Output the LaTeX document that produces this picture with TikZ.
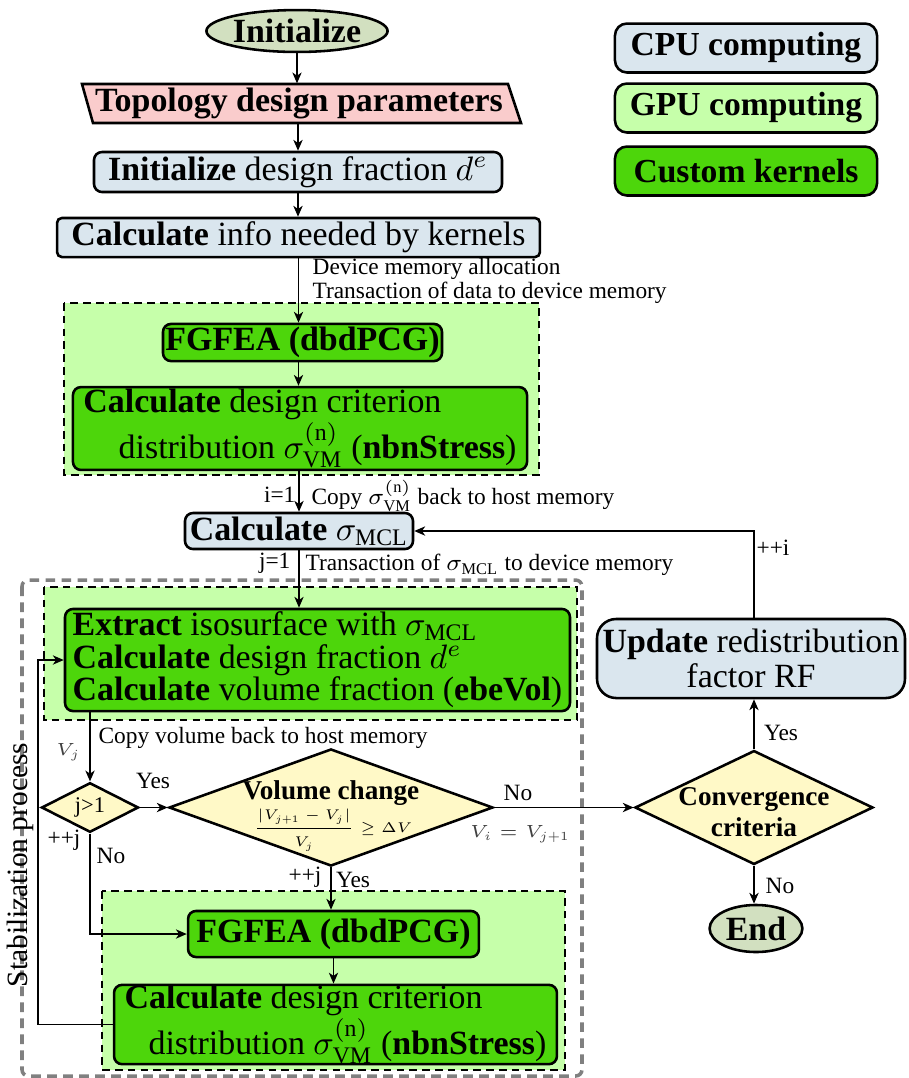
\documentclass[tikz,border=0pt]{standalone}
\usepackage{fix-cm}
\usepackage{amsmath}
\usepackage{fontspec}
\setmainfont{Liberation Serif}
\usetikzlibrary{shapes.geometric,arrows.meta}
\definecolor{cpu}{RGB}{218,230,238}
\definecolor{gpu}{RGB}{198,255,170}
\definecolor{kern}{RGB}{77,214,11}
\definecolor{ell}{RGB}{210,224,192}
\definecolor{pinkc}{RGB}{250,204,204}
\definecolor{yel}{RGB}{255,249,199}
\tikzset{
  box/.style={draw, line width=0.8pt, rounded corners=2.5pt, inner sep=0pt, font=\fontsize{10.6}{12.4}\selectfont},
  cpubox/.style={box, fill=cpu},
  kernbox/.style={box, fill=kern},
  legbox/.style={box, rounded corners=3.75pt, minimum width=81.9pt, minimum height=15.3pt, font=\fontsize{10.5}{12}\selectfont\bfseries},
  ellbox/.style={ellipse, draw, line width=0.8pt, fill=ell, inner sep=0pt, font=\fontsize{10.6}{12}\selectfont\bfseries},
  decision/.style={diamond, draw, line width=0.8pt, fill=yel, inner sep=0pt},
  dtext/.style={align=center, inner sep=0pt, font=\fontsize{8.5}{9.7}\selectfont\bfseries},
  lab/.style={font=\fontsize{7.3}{6.4}\selectfont, inner sep=0pt},
  mlab/.style={font=\fontsize{5.5}{6}\selectfont, inner sep=0pt, text=black!75},
  conn/.style={line width=0.5pt, -{Stealth[length=3.4pt,width=2.9pt,inset=1pt]}},
  region/.style={fill=gpu, draw, line width=0.6pt, dash pattern=on 2.4pt off 1.6pt},
  outer/.style={draw=black!50, line width=1.1pt, dash pattern=on 3pt off 2pt, rounded corners=2pt},
}
\begin{document}
\begin{tikzpicture}[x=0.3125pt,y=-0.3125pt]
\useasboundingbox (0,0) rectangle (909,1078);

% regions
\draw[outer] (22,580) rectangle (582,1076);
\draw[region] (64,303) rectangle (539,475);
\draw[region] (44,587) rectangle (577,720);
\draw[region] (102,891) rectangle (565,1070);

% legend
\node[legbox, fill=cpu] (legcpu) at (746,48) {CPU computing};
\node[legbox, fill=gpu] (leggpu) at (746,108) {GPU computing};
\node[legbox, fill=kern] (legkern) at (746,171) {Custom kernels};

% main column
\coordinate (colx) at (298,0);
\node[ellbox, minimum width=50pt, minimum height=13.1pt] (init) at (297,31) {Initialize};
\draw[line width=0.8pt, fill=pinkc] (82,84) -- (508,84) -- (521,123) -- (93,123) -- cycle;
\node[inner sep=0pt, minimum width=133.1pt, minimum height=12.2pt, font=\fontsize{10.6}{12}\selectfont\bfseries] (topo) at (299,103.5) {Topology design parameters};
\node[cpubox, minimum width=127.5pt, minimum height=12.5pt] (initd) at (298,172) {\textbf{Initialize} design fraction $d^e$};
\node[cpubox, minimum width=150.9pt, minimum height=12.2pt, rounded corners=1.5pt] (calcinfo) at (298.5,237.5) {\textbf{Calculate} info needed by kernels};
\node[kernbox, minimum width=87.2pt, minimum height=11.6pt] (fgfea1) at (302.5,342.5) {\textbf{FGFEA (dbdPCG)}};
\node[kernbox, minimum width=141.9pt, minimum height=25.9pt, align=left] (calc1) at (300,428.5) {\textbf{Calculate} design criterion\\\hspace*{11pt}distribution $\sigma_{\mathrm{VM}}^{(\mathrm{n})}$ (\textbf{nbnStress})};
\node[cpubox, minimum width=71.25pt, minimum height=11.25pt] (mcl) at (299,531) {\textbf{Calculate} $\sigma_{\mathrm{MCL}}$};
\node[kernbox, minimum width=157.8pt, minimum height=31.9pt, align=left, font=\fontsize{10.6}{10.2}\selectfont] (extract) at (317.5,660) {\textbf{Extract} isosurface with $\sigma_{\mathrm{MCL}}$\\\textbf{Calculate} design fraction $d^e$\\\textbf{Calculate} volume fraction (\textbf{ebeVol})};
\node[decision, minimum width=30.3pt, minimum height=12.5pt, font=\fontsize{7}{8}\selectfont] (jgt) at (90,807.5) {j>1};
\node[decision, minimum width=101.25pt, minimum height=36.6pt] (volchg) at (331,807.5) {};
\node[dtext] (volchgtxt) at (331,793) {Volume change};
\node[inner sep=0pt, font=\fontsize{4.4}{5}\selectfont] (volchgfrac) at (333,830) {$\dfrac{|V_{j+1}-V_j|}{V_j}\geq\Delta V$};
\node[decision, minimum width=74.4pt, minimum height=35.6pt] (conv) at (754,807.5) {};
\node[dtext] (convtxt) at (754,812) {Convergence\\criteria};
\node[cpubox, minimum width=96.25pt, minimum height=24.7pt, rounded corners=6pt, align=center, font=\fontsize{10.6}{11}\selectfont] (update) at (751,658.5) {\textbf{Update} redistribution\\factor RF};
\node[ellbox, minimum width=29pt, minimum height=14.7pt] (endn) at (756,928.5) {End};
\node[kernbox, minimum width=90.9pt, minimum height=14.4pt] (fgfea2) at (333.5,934) {\textbf{FGFEA (dbdPCG)}};
\node[kernbox, minimum width=138.4pt, minimum height=24.1pt, align=left] (calc2) at (335.5,1024.5) {\textbf{Calculate} design criterion\\\hspace*{7.5pt}distribution $\sigma_{\mathrm{VM}}^{(\mathrm{n})}$ (\textbf{nbnStress})};

\node[rotate=90, inner sep=0pt, font=\fontsize{9.2}{10}\selectfont] (stab) at (20,865) {Stabilization process};
\coordinate (loopx) at (38,0);

% connectors
\draw[conn] (init.south) -- (init.south |- topo.north);
\draw[conn] (colx |- topo.south) -- (colx |- initd.north);
\draw[conn] (initd.south) -- (initd.south |- calcinfo.north);
\draw[conn] (calcinfo.south) -- (calcinfo.south |- fgfea1.north);
\draw[conn] (fgfea1.south -| calcinfo.south) -- (calcinfo.south |- calc1.north);
\draw[conn] (calc1.south -| mcl.north) -- (mcl.north);
\draw[conn] (mcl.south) -- (mcl.south |- extract.north);
\draw[conn] (extract.south -| jgt.north) -- (jgt.north);
\draw[conn] (jgt.east) -- (volchg.west);
\draw[conn] (volchg.east) -- (conv.west);
\draw[conn] (conv.north) -- (conv.north |- update.south);
\draw[conn] (conv.north |- update.north) |- (mcl.east);
\draw[conn] (conv.south) -- (conv.south |- endn.north);
\draw[conn] (volchg.south) -- (volchg.south |- fgfea2.north);
\draw[conn] (jgt.south) |- (fgfea2.west);
\draw[conn] (fgfea2.south) -- (fgfea2.south |- calc2.north);
\draw[conn] (calc2.west) -- (calc2.west -| loopx) |- (extract.west);

% labels
\node[lab, anchor=west, align=left] (lab1) at (312,281) {Device memory allocation\\Transaction of data to device memory};
\node[lab, anchor=east] (lab2) at (296,495) {i=1};
\node[lab, anchor=west] (lab3) at (311,496) {Copy $\sigma_{\mathrm{VM}}^{(\mathrm{n})}$ back to host memory};
\node[lab, anchor=east] (lab4) at (291,563) {j=1};
\node[lab, anchor=west] (lab5) at (305,565) {Transaction of $\sigma_{\mathrm{MCL}}$ to device memory};
\node[mlab, anchor=east] (lab6) at (81,752) {$V_j$};
\node[lab, anchor=west] (lab7) at (98,738) {Copy volume back to host memory};
\node[lab] (lab8) at (153,781) {Yes};
\node[lab] (lab9) at (64,840) {++j};
\node[lab] (lab10) at (111,856) {No};
\node[lab] (lab11) at (518,793) {No};
\node[mlab] (lab12) at (520,834) {$V_i=V_{j+1}$};
\node[lab] (lab13) at (305,877) {++j};
\node[lab] (lab14) at (353,880) {Yes};
\node[lab] (lab15) at (781,733) {Yes};
\node[lab] (lab16) at (780,886) {No};
\node[lab] (lab17) at (773,548) {++i};
\end{tikzpicture}
\end{document}
